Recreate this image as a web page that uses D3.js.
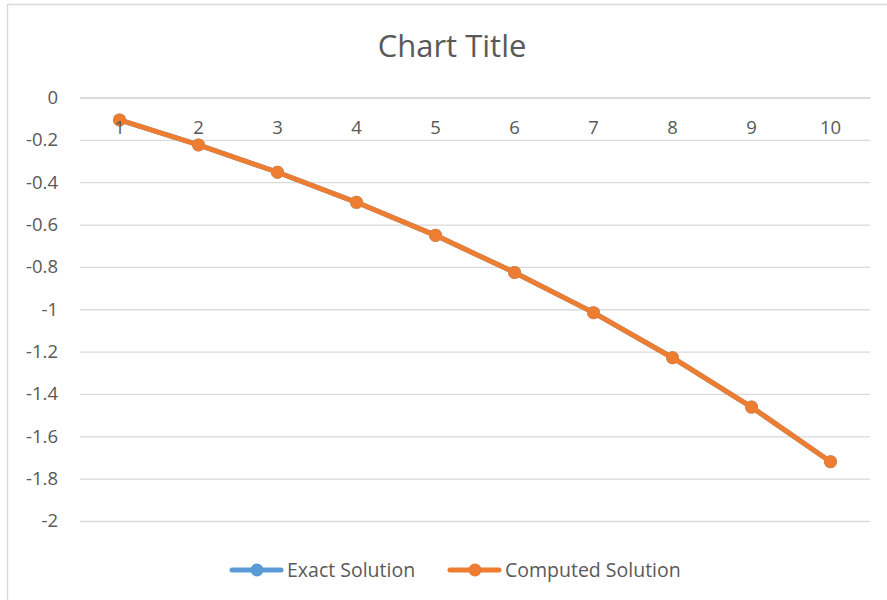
<!DOCTYPE html>
<html>
<head>
<meta charset="utf-8">
<script src="https://cdn.jsdelivr.net/npm/d3@7"></script>
<style>
  html, body { margin: 0; padding: 0; background: #fff; }
  svg { display: block; font-family: "Open Sans", Lato, sans-serif; }
</style>
</head>
<body>
<svg id="chart" width="887" height="600"></svg>
<script>
// Step index along the horizontal axis
const categories = [1, 2, 3, 4, 5, 6, 7, 8, 9, 10];
// Exact and computed solution values at each step
const exactSolution    = [-0.106, -0.224, -0.353, -0.495, -0.651, -0.826, -1.016, -1.229, -1.462, -1.720];
const computedSolution = [-0.106, -0.224, -0.353, -0.495, -0.651, -0.826, -1.016, -1.229, -1.462, -1.720];
// Value axis ticks
const yTicks = [0, -0.2, -0.4, -0.6, -0.8, -1, -1.2, -1.4, -1.6, -1.8, -2];

const series = [
  { name: "Exact Solution", values: exactSolution, color: "#5B9BD5" },
  { name: "Computed Solution", values: computedSolution, color: "#ED7D31" }
];

const svg = d3.select("#chart");
const textColor = "#595959";
const gridColor = "#d9d9d9";
const font = "'Open Sans', Lato, sans-serif";
const labelSize = "18.5px";

// Outer chart frame
svg.append("rect")
  .attr("x", 7.5).attr("y", 4.5)
  .attr("width", 900).attr("height", 620)
  .attr("fill", "#fff").attr("stroke", gridColor).attr("stroke-width", 1.5);

const plot = { left: 80, right: 870, top: 97.5, bottom: 521 };

const x = d3.scaleBand()
  .domain(categories)
  .range([plot.left, plot.right]);

const y = d3.scaleLinear()
  .domain([0, -2])
  .range([plot.top, plot.bottom]);

// Title
svg.append("text")
  .attr("x", 452).attr("y", 56.5)
  .attr("text-anchor", "middle")
  .attr("fill", textColor)
  .style("font-size", "31px")
  .style("font-family", font)
  .text("Chart Title");

// Horizontal gridlines with value labels
const yAxis = d3.axisLeft(y)
  .tickValues(yTicks)
  .tickSize(-(plot.right - plot.left))
  .tickPadding(22)
  .tickFormat(d => String(+d.toFixed(1)));

const gy = svg.append("g")
  .attr("transform", `translate(${plot.left},0)`)
  .call(yAxis);
gy.select(".domain").remove();
gy.selectAll(".tick line").attr("stroke", gridColor).attr("stroke-width", 1.3);
gy.selectAll(".tick text")
  .attr("fill", textColor)
  .style("font-size", labelSize)
  .style("font-family", font);

// Series lines and markers
const cx = (d, i) => x(categories[i]) + x.bandwidth() / 2;
const line = d3.line()
  .x((d, i) => cx(d, i))
  .y(d => y(d));

series.forEach(s => {
  const g = svg.append("g");
  g.append("path")
    .datum(s.values)
    .attr("d", line)
    .attr("fill", "none")
    .attr("stroke", s.color)
    .attr("stroke-width", 5)
    .attr("stroke-linejoin", "round")
    .attr("stroke-linecap", "round");
  g.selectAll("circle")
    .data(s.values)
    .join("circle")
    .attr("cx", cx)
    .attr("cy", d => y(d))
    .attr("r", 6.5)
    .attr("fill", s.color);
});

// Category axis crossing at zero, labels drawn above the series
const xAxis = d3.axisBottom(x).tickSize(0).tickPadding(23);
const gx = svg.append("g")
  .attr("transform", `translate(0,${y(0)})`)
  .call(xAxis);
gx.select(".domain").attr("stroke", gridColor).attr("stroke-width", 1.3);
gx.selectAll(".tick text")
  .attr("fill", textColor)
  .style("font-size", labelSize)
  .style("font-family", font);

// Legend
const legendY = 570;
const legendItems = [
  { s: series[0], x0: 230 },
  { s: series[1], x0: 448 }
];
legendItems.forEach(({ s, x0 }) => {
  const g = svg.append("g");
  g.append("line")
    .attr("x1", x0 + 2).attr("x2", x0 + 51)
    .attr("y1", legendY).attr("y2", legendY)
    .attr("stroke", s.color).attr("stroke-width", 5)
    .attr("stroke-linecap", "round");
  g.append("circle")
    .attr("cx", x0 + 27).attr("cy", legendY).attr("r", 6.5)
    .attr("fill", s.color);
  g.append("text")
    .attr("x", x0 + 57).attr("y", legendY)
    .attr("dy", "0.35em")
    .attr("fill", textColor)
    .style("font-size", "19.5px")
    .style("font-family", font)
    .text(s.name);
});
</script>
</body>
</html>
